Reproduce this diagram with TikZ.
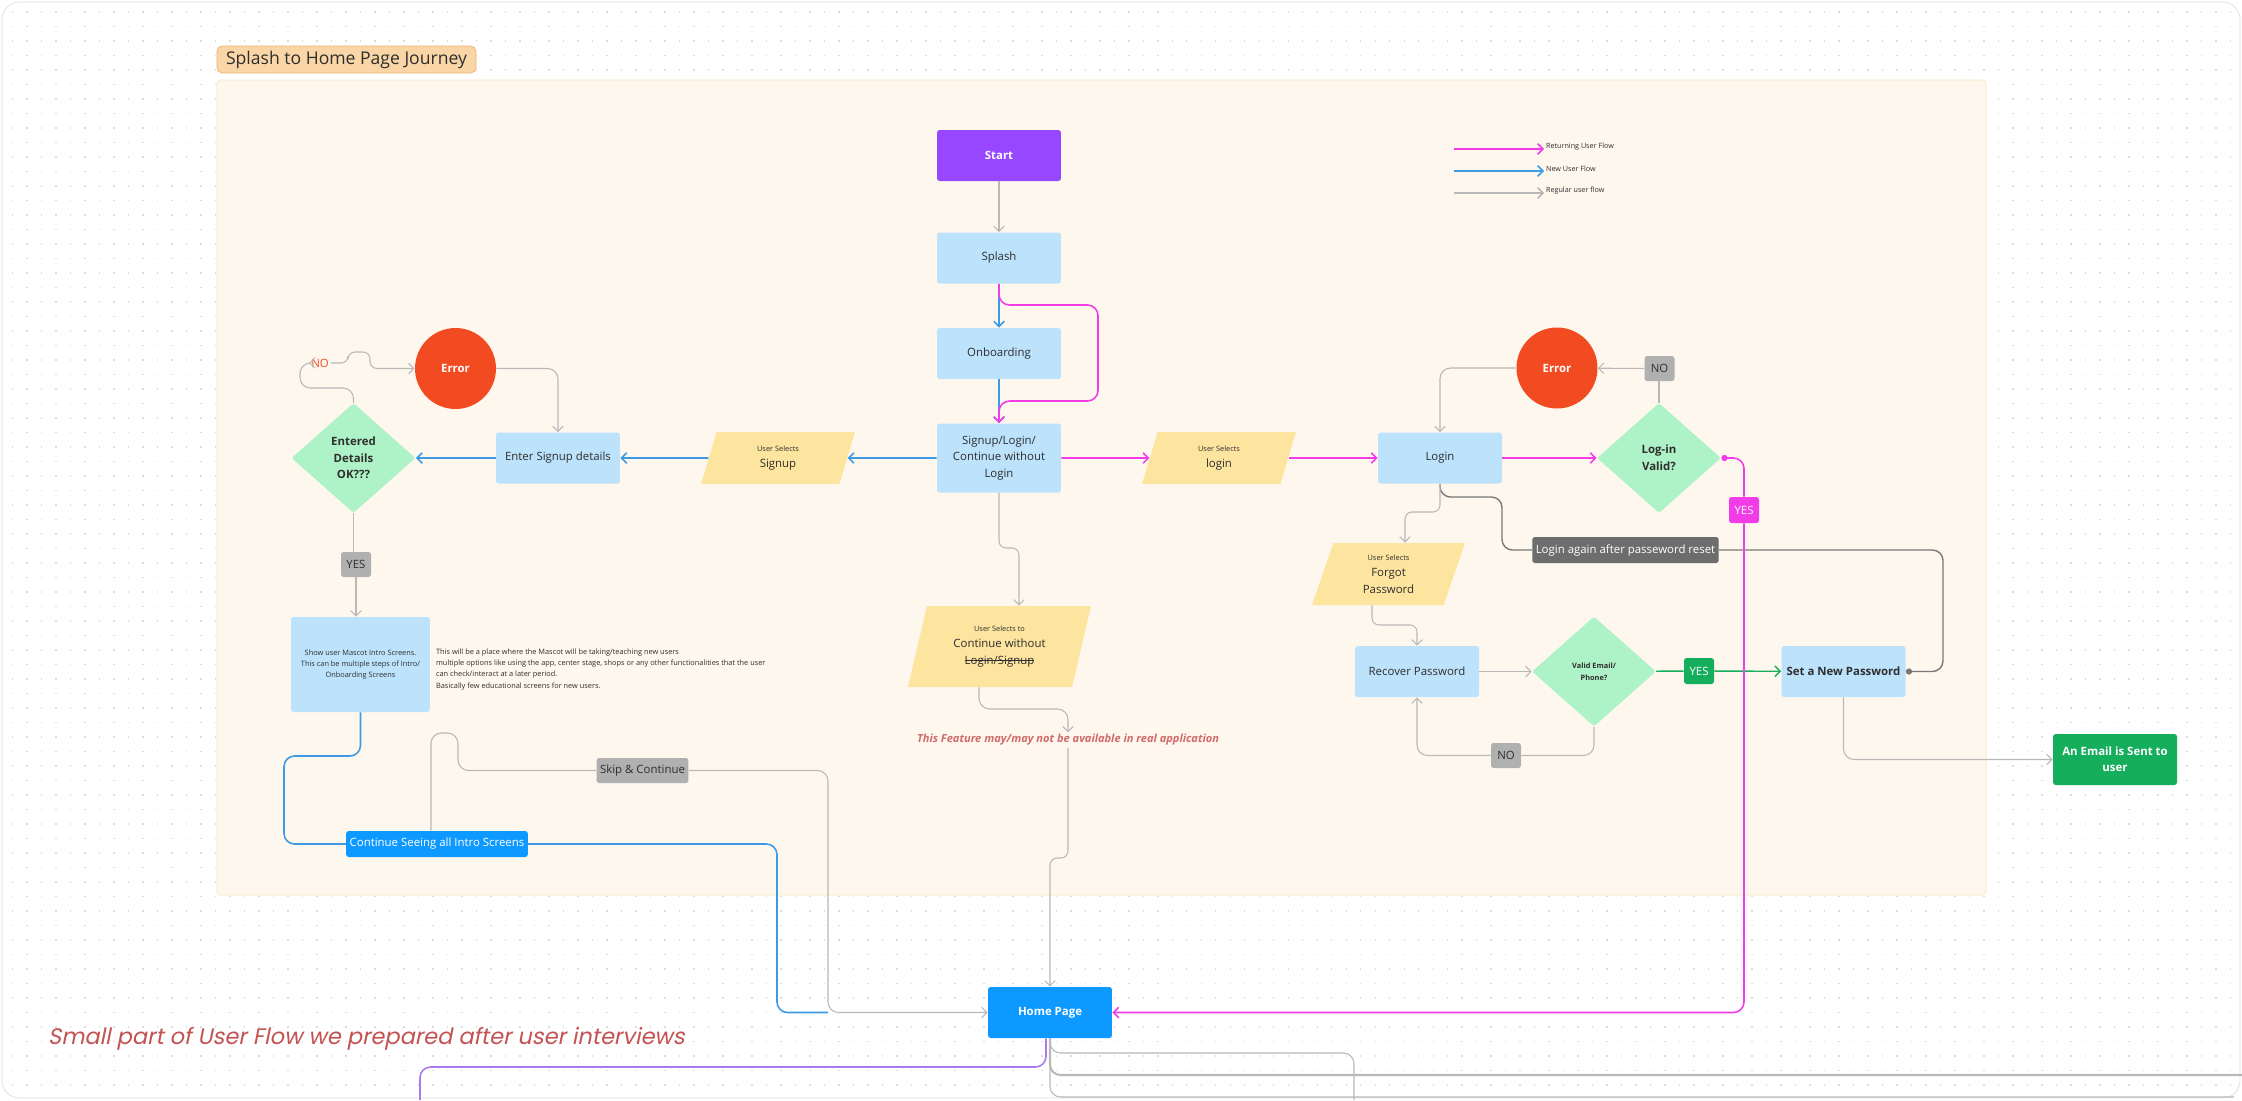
\documentclass[tikz,border=0pt]{standalone}
\usepackage{fontspec}
\setmainfont{Open Sans}
\newfontfamily\capfont[FakeSlant=0.2]{Poppins}
\usetikzlibrary{arrows.meta,shapes.geometric,positioning}

\definecolor{ink}{HTML}{2E2E2E}
\definecolor{linegray}{HTML}{B8B8B8}
\definecolor{darkline}{HTML}{787878}
\definecolor{retpink}{HTML}{F23CE8}
\definecolor{newblue}{HTML}{3D9BE6}
\definecolor{boxblue}{HTML}{BDE3FC}
\definecolor{pickyellow}{HTML}{FDE5A0}
\definecolor{checkgreen}{HTML}{AEF2C7}
\definecolor{oopsred}{HTML}{F24B22}
\definecolor{startpurple}{HTML}{9747FF}
\definecolor{homeblue}{HTML}{0D99FF}
\definecolor{okgreen}{HTML}{14AE5C}
\definecolor{taggray}{HTML}{B0B0B0}
\definecolor{tagdark}{HTML}{6D6D6D}
\definecolor{tagorange}{HTML}{FAD6A6}
\definecolor{tagedge}{HTML}{EBB273}
\definecolor{cream}{HTML}{FEF7EE}
\definecolor{creamedge}{HTML}{FBE4C3}
\definecolor{warnred}{HTML}{D06A6A}
\definecolor{capred}{HTML}{C45252}
\definecolor{lilac}{HTML}{A97BEF}
\definecolor{framegray}{HTML}{DDDDDD}
\definecolor{dotgray}{HTML}{DCDCDC}

\newcommand{\tinytxt}{\fontsize{4.2}{6.3}\selectfont}
\newcommand{\crossout}[1]{\setbox0\hbox{#1}\rlap{\raisebox{0.55ex}{\rule{\wd0}{0.4pt}}}\box0}

\begin{document}
\begin{tikzpicture}[x=0.02cm,y=-0.02cm,>={Straight Barb[length=3pt,width=6pt]},
    font=\fontsize{6.5}{9.3}\selectfont,
    every node/.style={text=ink,align=center,inner sep=1pt},
    screen/.style={rectangle,rounded corners=1.5pt,fill=boxblue,minimum width=2.48cm,minimum height=1.02cm},
    pick/.style={trapezium,trapezium left angle=61,trapezium right angle=119,trapezium stretches body=true,
        fill=pickyellow,minimum width=3.08cm,minimum height=1.04cm},
    decision/.style={diamond,rounded corners=1pt,fill=checkgreen,minimum width=2.48cm,minimum height=2.2cm,
        inner sep=0pt,font=\fontsize{6.5}{9.5}\selectfont\bfseries},
    oops/.style={circle,fill=oopsred,text=white,minimum size=1.62cm,inner sep=0pt,font=\fontsize{6.5}{9}\selectfont\bfseries},
    flag/.style={rectangle,rounded corners=1.5pt,fill=taggray,minimum width=0.6cm,minimum height=0.5cm,inner sep=2pt},
    regflow/.style={draw=linegray,line width=0.6pt,rounded corners=6pt},
    darkflow/.style={draw=darkline,line width=0.8pt,rounded corners=6pt},
    newflow/.style={draw=newblue,line width=0.9pt,rounded corners=6pt},
    retflow/.style={draw=retpink,line width=0.9pt,rounded corners=6pt},
    okflow/.style={draw=okgreen,line width=0.8pt}]

\useasboundingbox (0,0) rectangle (2242,1100);

% canvas
\draw[draw=framegray,fill=white,rounded corners=10pt] (2,2) rectangle (2240,1098);
\foreach \r in {0,...,74}
    \draw[dotgray,line width=0.8pt,dash pattern=on 0.8pt off 7.45pt] (12,12+\r*14.5) -- (2232,12+\r*14.5);

% group
\draw[fill=cream,draw=creamedge,rounded corners=2pt] (217,80) rectangle (1986,895);
\node[fill=tagorange,draw=tagedge,rounded corners=3pt,minimum width=5.18cm,minimum height=0.54cm,
    font=\fontsize{10}{12}\selectfont] (journey) at (346.5,59.5) {Splash to Home Page Journey};

% legend
\coordinate (keyRet) at (1454,149);
\coordinate (keyNew) at (1454,171);
\coordinate (keyReg) at (1454,193);
\node[anchor=west,font=\fontsize{4.1}{5}\selectfont] (keyRetTxt) at (1544,147) {Returning User Flow};
\node[anchor=west,font=\fontsize{4.1}{5}\selectfont] (keyNewTxt) at (1544,169) {New User Flow};
\node[anchor=west,font=\fontsize{4.1}{5}\selectfont] (keyRegTxt) at (1544,191) {Regular user flow};
\draw[retflow,->] (keyRet) -- (keyRet -| keyRetTxt.west);
\draw[newflow,->] (keyNew) -- (keyNew -| keyNewTxt.west);
\draw[regflow,line width=0.9pt,->] (keyReg) -- (keyReg -| keyRegTxt.west);

% main column
\node[screen,fill=startpurple,text=white,font=\fontsize{6.5}{9}\selectfont\bfseries] (start) at (999,155.5) {Start};
\node[screen] (splash) at (999,258) {Splash};
\node[screen] (onboard) at (999,353.5) {Onboarding};
\node[screen,minimum height=1.38cm] (choice) at (999,458) {Signup/Login/\\Continue without\\Login};
\node[pick,trapezium left angle=67,trapezium right angle=113,minimum width=3.66cm,minimum height=1.62cm]
    (pickCont) at (999.5,646.5) {{\tinytxt User Selects to}\\Continue without\\\crossout{Login/Signup}};
\node[text=warnred,font=\fontsize{6.3}{8}\selectfont\bfseries\itshape] (warn) at (1068,740)
    {This Feature may/may not be available in real application};
\node[screen,fill=homeblue,text=white,font=\fontsize{6.5}{9}\selectfont\bfseries] (home) at (1050,1012.5) {Home Page};

% new user side
\node[pick] (pickSignup) at (778,458) {{\tinytxt User Selects}\\Signup};
\node[screen] (enterSignup) at (558,458) {Enter Signup details};
\node[decision] (detailsOk) at (353.5,458) {Entered\\Details\\OK???};
\node[oops] (errLeft) at (455.5,368.5) {Error};
\node[text=oopsred] (noLeft) at (320,363) {NO};
\node[flag] (yesLeft) at (356,564.5) {YES};
\node[screen,minimum width=2.78cm,minimum height=1.9cm,font=\tinytxt] (intro) at (360.5,664.5)
    {Show user Mascot Intro Screens.\\This can be multiple steps of Intro/\\Onboarding Screens};
\node[anchor=west,align=left,font=\tinytxt] (mascotNote) at (434,669.5)
    {This will be a place where the Mascot will be taking/teaching new users\\
     multiple options like using the app, center stage, shops or any other functionalities that the user\\
     can check/interact at a later period.\\
     Basically few educational screens for new users.};
\node[flag,fill=homeblue,text=white,minimum width=3.52cm,minimum height=0.52cm] (contIntro) at (437,844)
    {Continue Seeing all Intro Screens};
\node[flag,minimum width=1.78cm] (skip) at (642.5,770.5) {Skip \& Continue};
\coordinate (merge) at (828,1012.5);

% returning user side
\node[pick] (pickLogin) at (1219,458) {{\tinytxt User Selects}\\login};
\node[screen] (login) at (1440,458) {Login};
\node[oops] (errRight) at (1557,368) {Error};
\node[flag] (noRight) at (1659.5,368.5) {NO};
\node[decision] (valid) at (1659,458) {Log-in\\Valid?};
\node[flag,fill=retpink,text=white,minimum height=0.52cm] (yesRet) at (1744,510) {YES};
\node[flag,fill=tagdark,text=white,minimum width=3.62cm,minimum height=0.52cm] (again) at (1625.5,550)
    {Login again after passeword reset};
\node[pick,trapezium left angle=63,trapezium right angle=117,minimum width=3.06cm,minimum height=1.24cm]
    (pickForgot) at (1388.5,574) {{\tinytxt User Selects}\\Forgot\\Password};
\node[screen] (recover) at (1417,671.5) {Recover Password};
\node[decision,font=\fontsize{4.2}{7}\selectfont\bfseries] (validMail) at (1594,671.5) {Valid Email/\\Phone?};
\node[flag,fill=okgreen,text=white,minimum height=0.52cm] (yesMail) at (1699,671) {YES};
\node[flag] (noMail) at (1506,755.5) {NO};
\node[screen,font=\fontsize{6.5}{9}\selectfont\bfseries] (newPwd) at (1843.5,671.5) {Set a New Password};
\node[screen,fill=okgreen,text=white,font=\fontsize{6.5}{9.3}\selectfont\bfseries] (email) at (2115,759.5)
    {An Email is Sent to\\user};

\node[anchor=west,text=capred,font=\capfont\fontsize{12.8}{15}\selectfont] (caption) at (46,1039)
    {Small part of User Flow we prepared after user interviews};

% connectors, main column
\draw[regflow,->] (start) -- (splash);
\draw[newflow,->] (splash) -- (onboard);
\draw[newflow,->] (onboard) -- (choice);
\draw[retflow,->] (splash.south) |- (1098,305) |- (999,401) -- (choice.north);
\draw[regflow,->,rounded corners=4pt] (choice.south) |- (1019,548) -- ([xshift=0.39cm]pickCont.north);
\draw[regflow,->] ([xshift=-0.41cm]pickCont.south) |- (1068,709) -- (warn.north);
\draw[regflow,->,rounded corners=4pt] (warn.south) -- (1068,858) -| (home.north);

% connectors, new user
\draw[newflow,->] (choice) -- (pickSignup);
\draw[newflow,->] (pickSignup) -- (enterSignup);
\draw[newflow,->] (enterSignup) -- (detailsOk);
\draw[regflow,->] (detailsOk.north) |- (300,388) |- (noLeft.west);
\draw[regflow,->,rounded corners=4pt] (noLeft.east) -| (348,352) -| (370,368.5) -- (errLeft.west);
\draw[regflow,->] (errLeft.east) -| (enterSignup.north);
\draw[regflow] (detailsOk.south) -- (detailsOk.south |- yesLeft.north);
\draw[regflow,->] (yesLeft.south) -- (yesLeft.south |- intro.north);
\draw[newflow] (intro.south) |- (284,756) |- (contIntro.west);
\draw[newflow] (contIntro.east) -| (777,1012.5) -- (merge);
\draw[regflow] ([xshift=-0.12cm]contIntro.north) |- (458,733) |- (skip.west);
\draw[regflow,->] (skip.east) -| (merge) -- (home.west);

% connectors, returning user
\draw[retflow,->] (choice) -- (pickLogin);
\draw[retflow,->] (pickLogin) -- (login);
\draw[retflow,->] (login) -- (valid);
\draw[regflow] (valid.north) -- (valid.north |- noRight.south);
\draw[regflow,->] (noRight) -- (errRight);
\draw[regflow,->] (errRight.west) -| (login.north);
\draw[darkflow] (login.south) |- (1502,497) |- (again.west);
\draw[darkflow,-{Circle[length=3.5pt]}] (again.east) -| (1943,671.5) -- (newPwd.east);
\draw[regflow,->,rounded corners=4pt] (login.south) |- (1405,512) -- ([xshift=0.33cm]pickForgot.north);
\draw[regflow,->,rounded corners=4pt] ([xshift=-0.33cm]pickForgot.south) |- (1417,625) -- (recover.north);
\draw[regflow,->] (recover) -- (validMail);
\draw[okflow] (validMail) -- (yesMail);
\draw[okflow,->] (yesMail) -- (newPwd);
\draw[regflow] (validMail.south) |- (noMail.east);
\draw[regflow,->] (noMail.west) -| (recover.south);
\draw[regflow,->] (newPwd.south) |- (email.west);
\draw[retflow,{Circle[length=3.5pt]}-] (valid.east) -| (yesRet.north);
\draw[retflow,->] (yesRet.south) |- (home.east);

% out of home page
\coordinate (down1) at (1354,1100);
\coordinate (down2) at (420,1100);
\coordinate (east1) at (2242,1075);
\coordinate (east2) at (2234,1097);
\draw[regflow] (home.south) |- (1354,1053) -- (down1);
\draw[regflow,line width=1.2pt] (home.south) |- (east1);
\draw[regflow] (home.south) |- (east2);
\draw[draw=lilac,line width=0.9pt,rounded corners=6pt] ([xshift=-0.08cm]home.south) |- (420,1067) -- (down2);
\end{tikzpicture}
\end{document}
